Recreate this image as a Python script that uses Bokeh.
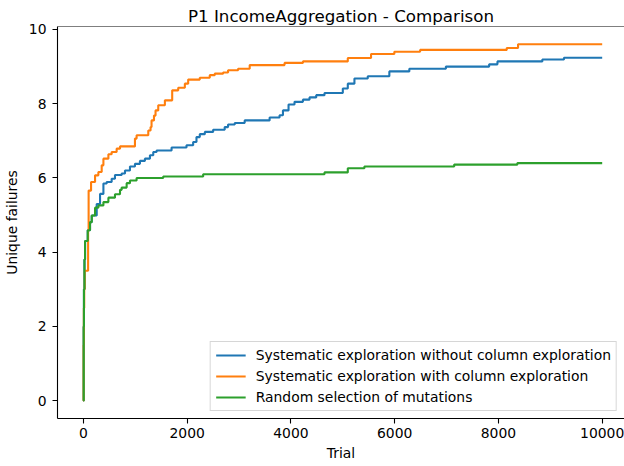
from bokeh.plotting import figure
from bokeh.models import Range1d, Span, Legend, LegendItem, FixedTicker
from bokeh.embed import file_html
from bokeh.resources import INLINE

TITLE = "P1 IncomeAggregation - Comparison"
X_LABEL = "Trial"
Y_LABEL = "Unique failures"
SERIES_NAMES = [
    "Systematic exploration without column exploration",
    "Systematic exploration with column exploration",
    "Random selection of mutations",
]
X_TICKS = [0, 2000, 4000, 6000, 8000, 10000]
Y_TICKS = [0, 2, 4, 6, 8, 10]
N_TRIALS = 10000

# change points of each step series (trial, mean unique failures)
blue_x = [0, 5, 10, 20, 31, 83, 127, 160, 256, 320, 385, 448, 544, 608, 737, 801, 897,
          993, 1089, 1185, 1282, 1346, 1410, 1699, 1987, 2115, 2179, 2243, 2340, 2500,
          2723, 2788, 2917, 3108, 3589, 3781, 3846, 3954, 4069, 4231, 4358, 4487, 4647,
          5000, 5096, 5224, 5481, 5897, 6282, 6987, 7821, 7981, 8846, 9263]
blue_y = [0, 2.0, 3.0, 3.8, 4.3, 4.59, 4.81, 4.99, 5.3, 5.57, 5.85, 5.89, 5.98, 6.08,
          6.12, 6.2, 6.31, 6.38, 6.46, 6.52, 6.61, 6.7, 6.74, 6.82, 6.88, 6.97, 7.1,
          7.18, 7.24, 7.30, 7.37, 7.44, 7.48, 7.55, 7.63, 7.69, 7.82, 7.98, 8.05, 8.11,
          8.17, 8.23, 8.29, 8.41, 8.54, 8.68, 8.74, 8.87, 8.94, 9.0, 9.06, 9.14, 9.19,
          9.24]

orange_x = [0, 3, 8, 15, 25, 90, 100, 147, 224, 288, 352, 385, 481, 544, 640, 705, 993,
            1025, 1250, 1294, 1313, 1360, 1390, 1442, 1570, 1711, 1827, 1955, 2019, 2243,
            2435, 2531, 2692, 2788, 2981, 3205, 3877, 4231, 5096, 5544, 5993, 6490, 8160,
            8378]
orange_y = [0, 1.5, 2.5, 3.0, 3.5, 4.6, 5.66, 5.89, 6.07, 6.16, 6.34, 6.52, 6.64, 6.70,
            6.79, 6.85, 7.06, 7.15, 7.28, 7.37, 7.55, 7.68, 7.82, 7.96, 8.09, 8.36, 8.43,
            8.54, 8.65, 8.70, 8.77, 8.81, 8.84, 8.90, 8.94, 9.04, 9.10, 9.14, 9.23, 9.34,
            9.40, 9.45, 9.50, 9.60]

green_x = [0, 5, 10, 20, 31, 83, 127, 160, 224, 288, 385, 481, 608, 705, 737, 833, 897,
           1025, 1538, 2308, 4647, 5096, 5416, 7147, 8365]
green_y = [0, 2.0, 3.0, 3.8, 4.3, 4.59, 4.81, 4.99, 5.2, 5.26, 5.35, 5.47, 5.56, 5.68,
           5.74, 5.86, 5.93, 6.0, 6.04, 6.1, 6.15, 6.26, 6.31, 6.36, 6.40]

COLORS = ["#1f77b4", "#ff7f0e", "#2ca02c"]
FONT = "DejaVu Sans"

Y_MIN, Y_MAX = -0.48, 10.08
X_MIN, X_MAX = -500, 10430

p = figure(width=624, height=466, output_backend="svg", toolbar_location=None,
           x_range=Range1d(X_MIN, X_MAX), y_range=Range1d(Y_MIN, Y_MAX),
           min_border_left=56, min_border_right=0, min_border_bottom=48,
           min_border_top=26)

p.title.text = TITLE
p.title.align = "center"
p.title.text_font = FONT
p.title.text_font_size = "16.7px"
p.title.text_font_style = "normal"
p.title.text_color = "black"
p.title.standoff = 2
p.title.offset = 0

p.outline_line_color = None
p.grid.visible = False
p.background_fill_color = "white"
p.border_fill_color = "white"

for ax in (p.xaxis[0], p.yaxis[0]):
    ax.axis_line_color = "black"
    ax.axis_line_width = 1.1
    ax.major_tick_line_color = "black"
    ax.major_tick_line_width = 1.1
    ax.major_tick_out = 5
    ax.major_tick_in = 0
    ax.minor_tick_line_color = None
    ax.major_label_text_font = FONT
    ax.major_label_text_font_size = "13.9px"
    ax.major_label_text_color = "black"
    ax.axis_label_text_font = FONT
    ax.axis_label_text_font_size = "13.9px"
    ax.axis_label_text_font_style = "normal"
    ax.axis_label_text_color = "black"

p.xaxis[0].ticker = FixedTicker(ticks=X_TICKS)
p.yaxis[0].ticker = FixedTicker(ticks=Y_TICKS)
p.xaxis[0].axis_label = X_LABEL
p.yaxis[0].axis_label = Y_LABEL
p.xaxis[0].major_label_standoff = 4
p.yaxis[0].major_label_standoff = 6
p.xaxis[0].axis_label_standoff = 4
p.yaxis[0].axis_label_standoff = 6

p.add_layout(Span(location=Y_MAX, dimension="width", line_color="black", line_width=1.1))

items = []
for xs, ys, color, name in zip((blue_x, orange_x, green_x), (blue_y, orange_y, green_y),
                               COLORS, SERIES_NAMES):
    r = p.step(xs + [N_TRIALS], ys + [ys[-1]], mode="after", line_color=color, line_width=2.1)
    items.append(LegendItem(label=name, renderers=[r]))

legend = Legend(items=items, location="bottom_right", margin=7,
                label_text_font=FONT, label_text_font_size="13.9px", label_text_color="black",
                glyph_width=30, glyph_height=16, label_height=16, spacing=5,
                label_standoff=10, padding=5,
                border_line_color="#cccccc", border_line_alpha=0.8, border_line_width=1,
                background_fill_color="white", background_fill_alpha=0.8)
p.add_layout(legend)

open("out.html", "w").write(file_html(p, INLINE))
